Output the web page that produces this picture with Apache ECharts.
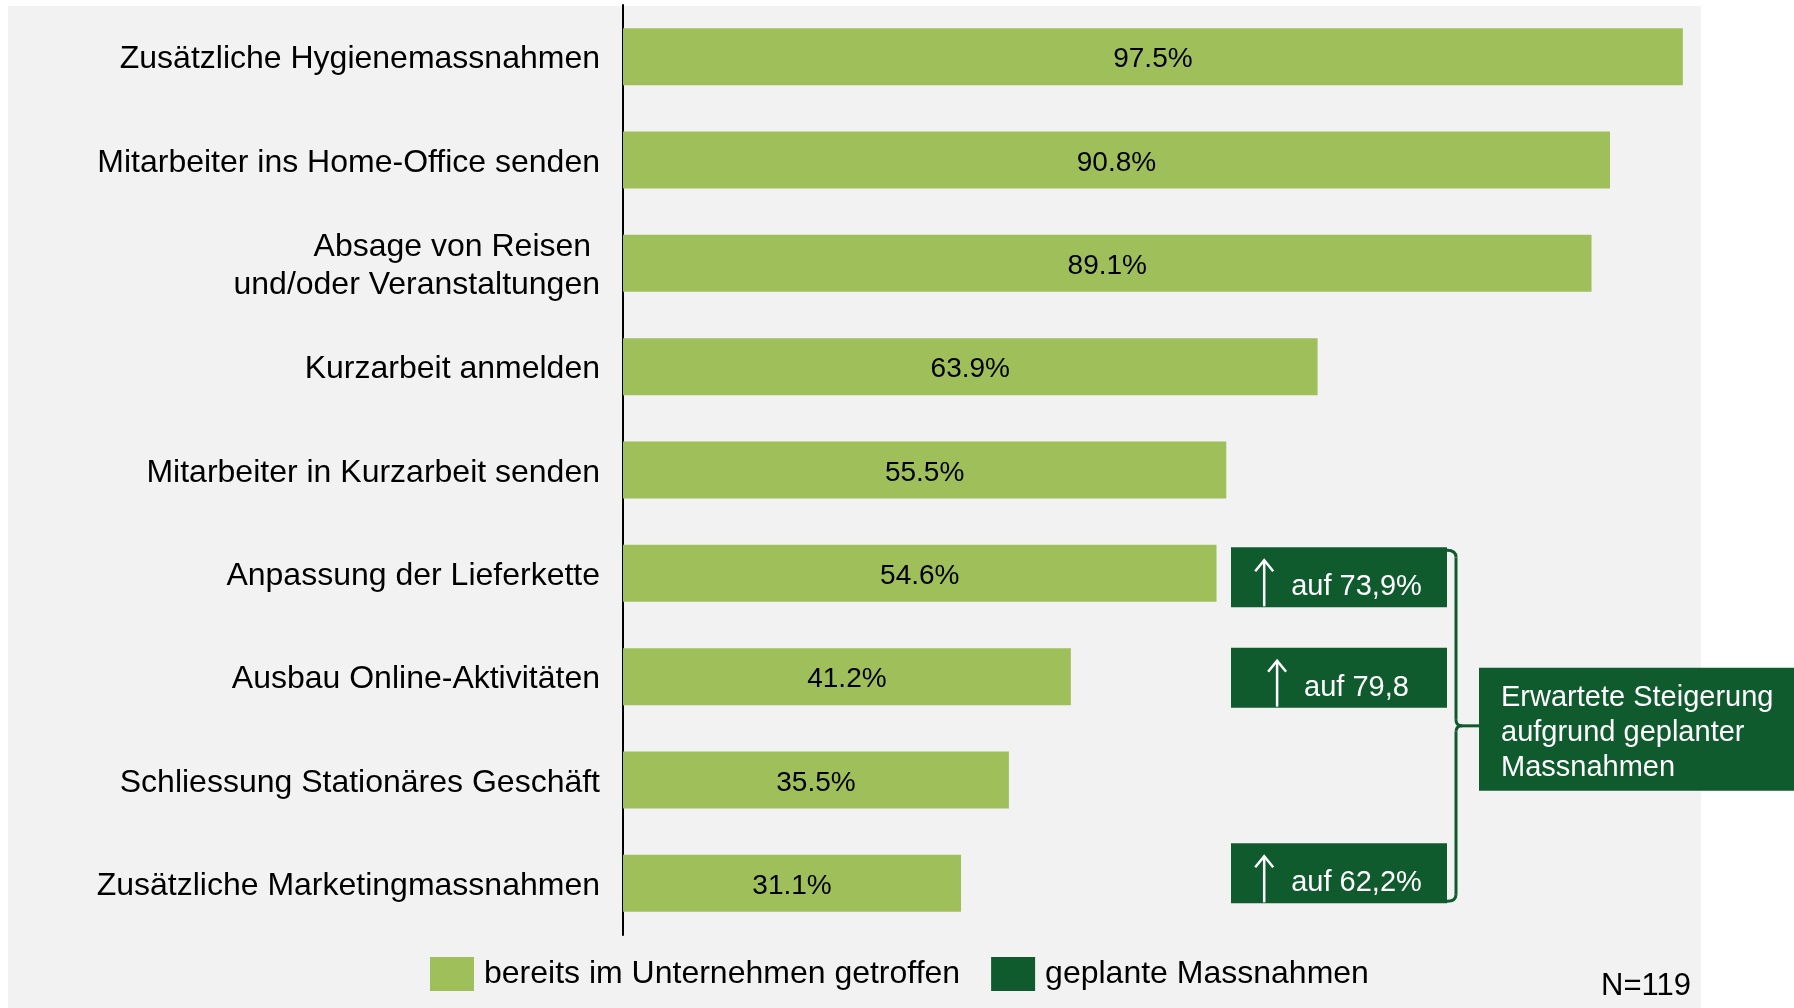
<!DOCTYPE html>
<html><head><meta charset="utf-8">
<script src="https://cdn.jsdelivr.net/npm/echarts@6/dist/echarts.min.js"></script>
<style>html,body{margin:0;padding:0;background:#fff}#c{width:1794px;height:1008px}</style>
</head><body><div id="c"></div><script>
// ---- data ----
const categories = [
  'Zusätzliche Hygienemassnahmen',
  'Mitarbeiter ins Home-Office senden',
  'Absage von Reisen \nund/oder Veranstaltungen',
  'Kurzarbeit anmelden',
  'Mitarbeiter in Kurzarbeit senden',
  'Anpassung der Lieferkette',
  'Ausbau Online-Aktivitäten',
  'Schliessung Stationäres Geschäft',
  'Zusätzliche Marketingmassnahmen'
];
const taken = [97.5, 90.8, 89.1, 63.9, 55.5, 54.6, 41.2, 35.5, 31.1];
const plannedRows = [5, 6, 8];
const plannedLabels = ['auf 73,9%', 'auf 79,8', 'auf 62,2%'];
const seriesNames = ['bereits im Unternehmen getroffen', 'geplante Massnahmen'];
const calloutLines = ['Erwartete Steigerung', 'aufgrund geplanter', 'Massnahmen'];
const sampleNote = 'N=119';

// ---- style / layout ----
const FONT = '"Liberation Sans", Arial, Helvetica, sans-serif';
const LIGHT = '#9fbf5b', DARK = '#0f5b2e';
const BOX = {left: 1231, width: 216, height: 60};
const boxNudge = [4, 1, -10];

const measure = (() => {
  const c = document.createElement('canvas').getContext('2d');
  return (t, size) => { c.font = size + 'px ' + FONT; return c.measureText(t).width; };
})();

const chart = echarts.init(document.getElementById('c'), null, {renderer: 'canvas'});

chart.setOption({
  backgroundColor: '#ffffff',
  animation: false,
  grid: {left: 623, top: 5, width: 1087, height: 930, containLabel: false},
  xAxis: {type: 'value', min: 0, max: 100, show: false},
  yAxis: {
    type: 'category', data: categories, inverse: true,
    axisLine: {show: true, lineStyle: {color: '#000', width: 2}},
    axisTick: {show: false}, splitLine: {show: false},
    axisLabel: {
      color: '#000', fontSize: 32, fontFamily: FONT, margin: 23,
      formatter: v => v.split('\n').map(l => '{a|' + l + '}').join('\n'),
      rich: {a: {color: '#000', fontSize: 32, fontFamily: FONT, lineHeight: 38, padding: [6, 0, 0, 0], align: 'right'}}
    }
  },
  legend: {
    left: 425, top: 952, itemWidth: 44, itemHeight: 34, itemGap: 31, icon: 'rect',
    textStyle: {fontSize: 32, color: '#000', fontFamily: FONT, padding: [2, 0, 0, 5]},
    data: seriesNames
  },
  series: [
    {
      name: seriesNames[0], type: 'bar', data: taken, barWidth: 57,
      itemStyle: {color: LIGHT},
      label: {show: true, position: 'inside', offset: [0, 3], color: '#000', fontSize: 28, fontFamily: FONT,
        formatter: p => p.value.toFixed(1) + '%'}
    },
    {
      name: seriesNames[1], type: 'custom', itemStyle: {color: DARK},
      encode: {x: 0, y: 1},
      data: plannedRows.map(r => [0, r]),
      renderItem: (params, api) => {
        const i = params.dataIndex;
        const cy = api.coord([0, api.value(1)])[1] + boxNudge[i];
        const top = cy - BOX.height / 2;
        const label = plannedLabels[i];
        const tw = measure(label, 29);
        const cx = BOX.left + BOX.width / 2;
        const textStart = cx + (35 - tw) / 2;
        const ax = textStart - 27;
        return {
          type: 'group',
          children: [
            {type: 'rect', shape: {x: BOX.left, y: top, width: BOX.width, height: BOX.height}, style: {fill: DARK}},
            {type: 'line', shape: {x1: ax, y1: top + 13, x2: ax, y2: top + BOX.height - 1}, style: {stroke: '#fff', lineWidth: 2.5}},
            {type: 'polyline', shape: {points: [[ax - 9, top + 24], [ax, top + 13], [ax + 9, top + 24]]}, style: {stroke: '#fff', lineWidth: 2.5, fill: null}},
            {type: 'text', style: {text: label, x: textStart, y: cy + 10, fill: '#fff', fontSize: 29, fontFamily: FONT, verticalAlign: 'middle', align: 'left'}}
          ]
        };
      }
    }
  ]
});

// ---- annotations positioned from the category axis ----
const rowY = r => chart.convertToPixel({yAxisIndex: 0}, r);
const y1 = rowY(plannedRows[0]) + boxNudge[0] - BOX.height / 2 + 3;
const y2 = rowY(plannedRows[2]) + boxNudge[2] + BOX.height / 2 - 2;
const ym = (y1 + y2) / 2;
const bx = 1456;
const calloutTop = ym - 58;
const bStyle = {stroke: DARK, lineWidth: 3, fill: null};

chart.setOption({
  graphic: [
    {type: 'rect', z: -100, silent: true, shape: {x: 8, y: 6, width: 1693, height: 1002}, style: {fill: '#f2f2f2'}},
    {type: 'bezierCurve', shape: {x1: bx - 9, y1: y1, cpx1: bx, cpy1: y1, x2: bx, y2: y1 + 7}, style: bStyle},
    {type: 'line', shape: {x1: bx, y1: y1 + 7, x2: bx, y2: ym - 6}, style: bStyle},
    {type: 'bezierCurve', shape: {x1: bx, y1: ym - 6, cpx1: bx, cpy1: ym, x2: bx + 6, y2: ym}, style: bStyle},
    {type: 'bezierCurve', shape: {x1: bx + 6, y1: ym, cpx1: bx, cpy1: ym, x2: bx, y2: ym + 6}, style: bStyle},
    {type: 'line', shape: {x1: bx + 5, y1: ym, x2: bx + 24, y2: ym}, style: bStyle},
    {type: 'line', shape: {x1: bx, y1: ym + 6, x2: bx, y2: y2 - 7}, style: bStyle},
    {type: 'bezierCurve', shape: {x1: bx, y1: y2 - 7, cpx1: bx, cpy1: y2, x2: bx - 9, y2: y2}, style: bStyle},
    {type: 'rect', shape: {x: 1479, y: calloutTop, width: 315, height: 123}, style: {fill: DARK}},
    {type: 'text', style: {text: calloutLines.join('\n'), x: 1501, y: calloutTop + 13, fill: '#fff', fontSize: 29, lineHeight: 35, fontFamily: FONT, verticalAlign: 'top', align: 'left'}},
    {type: 'text', style: {text: sampleNote, x: 1691, y: 986, fill: '#000', fontSize: 31, fontFamily: FONT, verticalAlign: 'middle', align: 'right'}}
  ]
});
</script></body></html>
